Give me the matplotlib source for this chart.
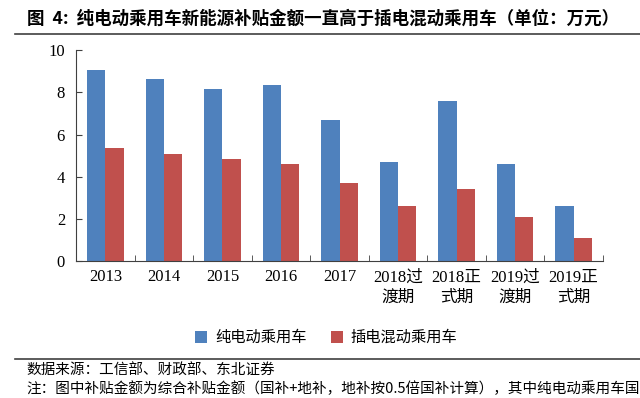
import matplotlib
matplotlib.use('Agg')
import matplotlib.pyplot as plt
import numpy as np

plt.rcParams['font.family'] = ['Liberation Serif', 'Noto Sans CJK SC']

categories = ['2013', '2014', '2015', '2016', '2017',
              '2018过\n渡期', '2018正\n式期', '2019过\n渡期', '2019正\n式期']
bev = [9.07, 8.63, 8.18, 8.33, 6.68, 4.69, 7.58, 4.58, 2.59]
phev = [5.34, 5.07, 4.82, 4.58, 3.68, 2.61, 3.40, 2.07, 1.09]
series_names = ['纯电动乘用车', '插电混动乘用车']
colors = ['#4F81BD', '#C0504D']

title = '图  4:  纯电动乘用车新能源补贴金额一直高于插电混动乘用车（单位：万元）'
source = '数据来源：工信部、财政部、东北证券'
note = '注：图中补贴金额为综合补贴金额（国补+地补，地补按0.5倍国补计算），其中纯电动乘用车国'

fig = plt.figure(figsize=(6.4, 3.98), dpi=100)
ax = fig.add_axes([0.119, 0.344, 0.823, 0.53])

x = np.arange(len(categories))
w = 0.31
ax.bar(x - w / 2, bev, w, color=colors[0], label=series_names[0])
ax.bar(x + w / 2, phev, w, color=colors[1], label=series_names[1])

ax.set_xlim(-0.5, len(categories) - 0.5)
ax.set_ylim(0, 10)
ax.set_yticks([0, 2, 4, 6, 8, 10])
ax.set_xticks(x)
ax.set_xticklabels(categories, fontsize=12, linespacing=1.4)
ax.set_xticks(np.arange(len(categories) + 1) - 0.5, minor=True)
ax.tick_params(axis='x', which='major', length=0, pad=6)
ax.tick_params(axis='x', which='minor', direction='in', length=4, color='#404040')
ax.tick_params(axis='y', direction='in', length=4, labelsize=12, color='#404040', pad=8)
for s in ['top', 'right']:
    ax.spines[s].set_visible(False)
ax.spines['left'].set_color('#404040')
ax.spines['bottom'].set_color('#404040')

fig.legend(loc='center', bbox_to_anchor=(0.51, 0.152), ncol=2, frameon=False,
           prop={'family': ['Noto Sans CJK SC'], 'size': 11},
           handlelength=0.8, handleheight=0.8, columnspacing=1.6, handletextpad=0.5)

fig.text(0.042, 0.952, title, fontsize=12.6, fontweight='bold',
         family=['Noto Sans CJK SC', 'DejaVu Sans'], va='center')
fig.add_artist(plt.Line2D([0.023, 1.0], [0.915, 0.915], color='#404040', lw=1.2))
fig.add_artist(plt.Line2D([0.023, 1.0], [0.098, 0.098], color='#404040', lw=1.2))
fig.text(0.042, 0.068, source, fontsize=10.5, family=['Noto Sans CJK SC', 'DejaVu Sans'],
         va='center')
fig.text(0.042, 0.004, note, fontsize=10.5, family=['Noto Sans CJK SC', 'DejaVu Sans'],
         va='bottom')

fig.savefig('out.png', dpi=100)
